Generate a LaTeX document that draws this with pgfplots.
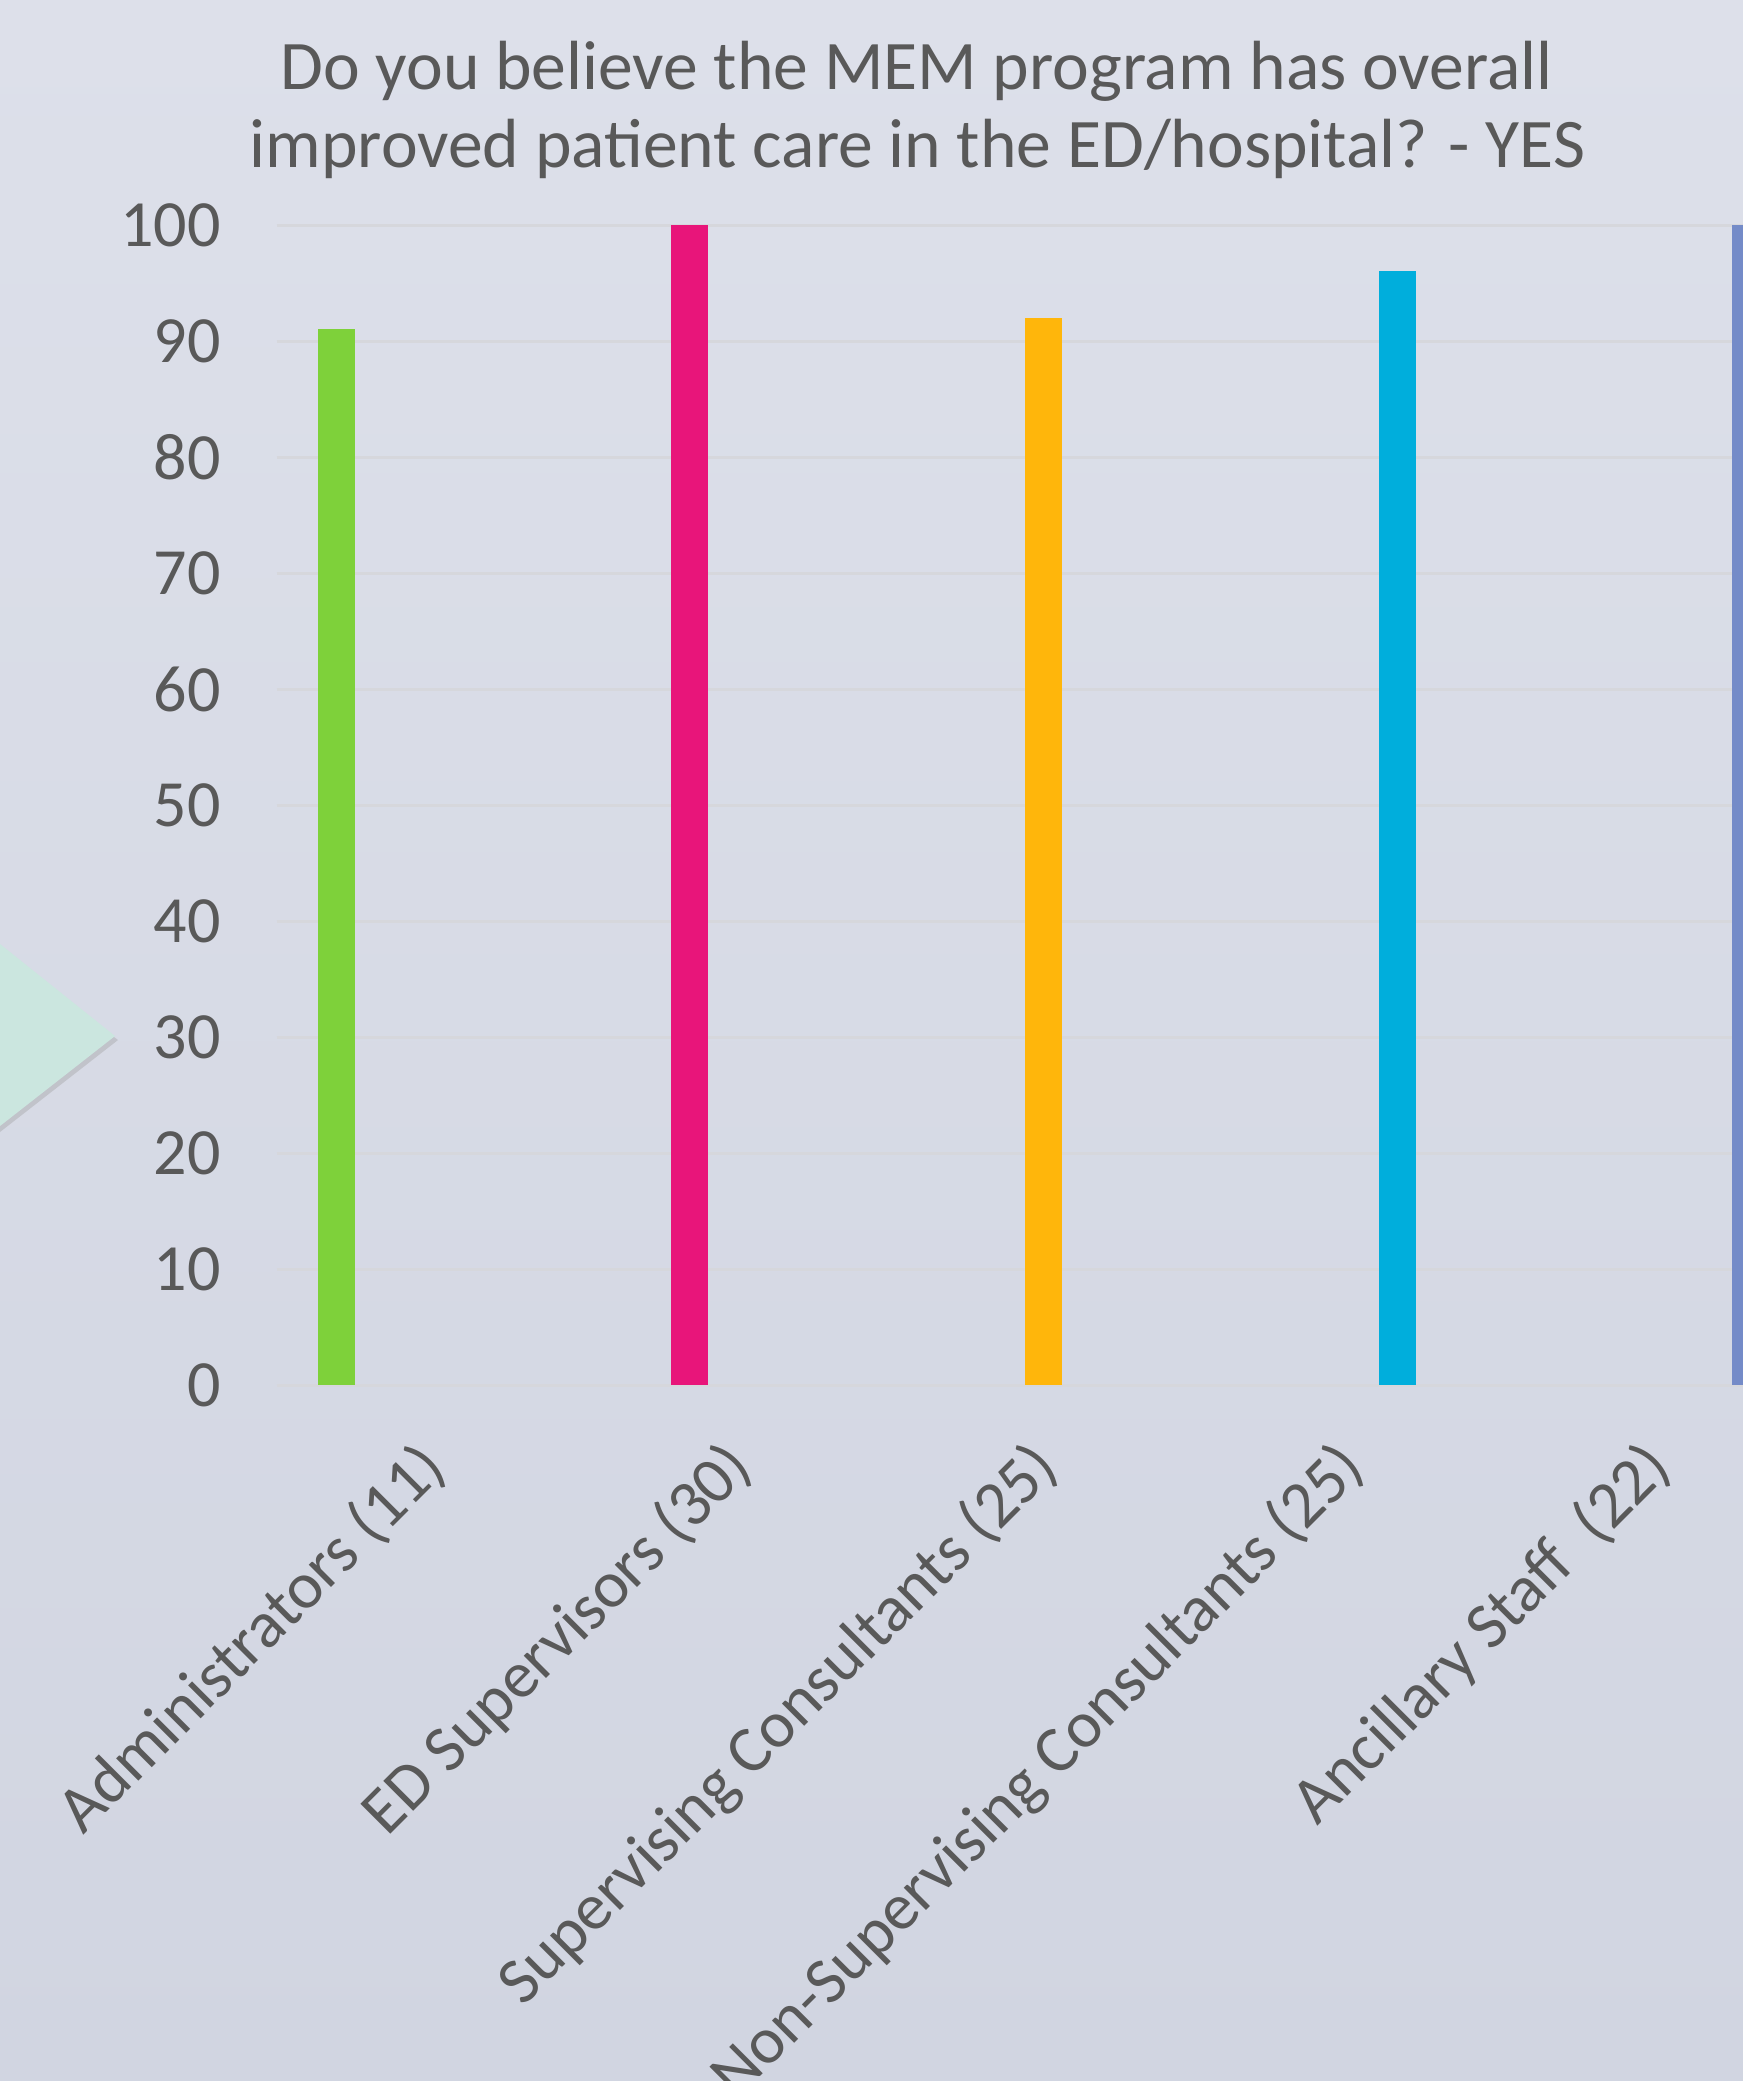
\documentclass[border=0pt]{standalone}
\usepackage{pgfplots}
\pgfplotsset{compat=1.18}
\usepackage{fontspec}
\setmainfont{Carlito}
\definecolor{txt}{HTML}{595959}
\definecolor{bgtop}{HTML}{DDE0EA}
\definecolor{bgbot}{HTML}{D1D5E1}
\definecolor{mint}{HTML}{CBE6DF}
\definecolor{gridc}{HTML}{D6D7DC}
\definecolor{cgreen}{HTML}{7ED13A}
\definecolor{cpink}{HTML}{E8157A}
\definecolor{corange}{HTML}{FFB60B}
\definecolor{ccyan}{HTML}{00AEDC}
\definecolor{cblue}{HTML}{748BC8}
\begin{document}
\begin{tikzpicture}
\shade[top color=bgtop, bottom color=bgbot] (0pt,0pt) rectangle (435.75pt,-520.25pt);
\useasboundingbox (0pt,0pt) rectangle (435.75pt,-520.25pt);
% decorative arrow tip at left
\fill[black!40, opacity=0.35] (0pt,-237.5pt) -- (29.5pt,-260pt) -- (0pt,-283pt) -- cycle;
\fill[mint] (0pt,-236pt) -- (28.75pt,-259pt) -- (0pt,-281.5pt) -- cycle;
% title
\node[anchor=base, inner sep=0pt, text=txt, font=\fontsize{17.4}{21}\selectfont] at (229.1pt,-22.3pt) {Do you believe the MEM program has overall};
\node[anchor=base, inner sep=0pt, text=txt, font=\fontsize{17.4}{21}\selectfont] at (229.4pt,-41.9pt) {improved patient care in the ED/hospital? - YES};
\begin{axis}[
  at={(69.25pt,-346.25pt)}, anchor=south west,
  scale only axis, width=366.5pt, height=290pt,
  xmin=-0.168, xmax=3.978, ymin=0, ymax=100,
  ytick={0,10,...,100},
  xtick={0.307,1.174,2.040,2.907,3.773},
  xticklabels={Administrators (11), ED Supervisors (30), Supervising Consultants (25), Non-Supervising Consultants (25), Ancillary Staff~ (22)},
  axis line style={draw=none},
  major tick length=0pt,
  ymajorgrids, xmajorgrids=false,
  grid style={color=gridc, line width=0.75pt},
  /pgf/number format/assume math mode=true,
  yticklabel style={text=txt, font=\fontsize{16.5}{19}\selectfont},
  yticklabel shift=10.6pt,
  xticklabel style={text=txt, font=\fontsize{16.5}{19}\selectfont, rotate=45, anchor=east},
  xticklabel shift=15.5pt,
  ybar, bar width=9.25pt,
]
\addplot[fill=cgreen, draw=none, bar shift=0pt] coordinates {(0,91)};
\addplot[fill=cpink, draw=none, bar shift=0pt] coordinates {(1,100)};
\addplot[fill=corange, draw=none, bar shift=0pt] coordinates {(2,92)};
\addplot[fill=ccyan, draw=none, bar shift=0pt] coordinates {(3,96)};
\addplot[fill=cblue, draw=none, bar shift=0pt] coordinates {(4,100)};
\end{axis}
\end{tikzpicture}
\end{document}
